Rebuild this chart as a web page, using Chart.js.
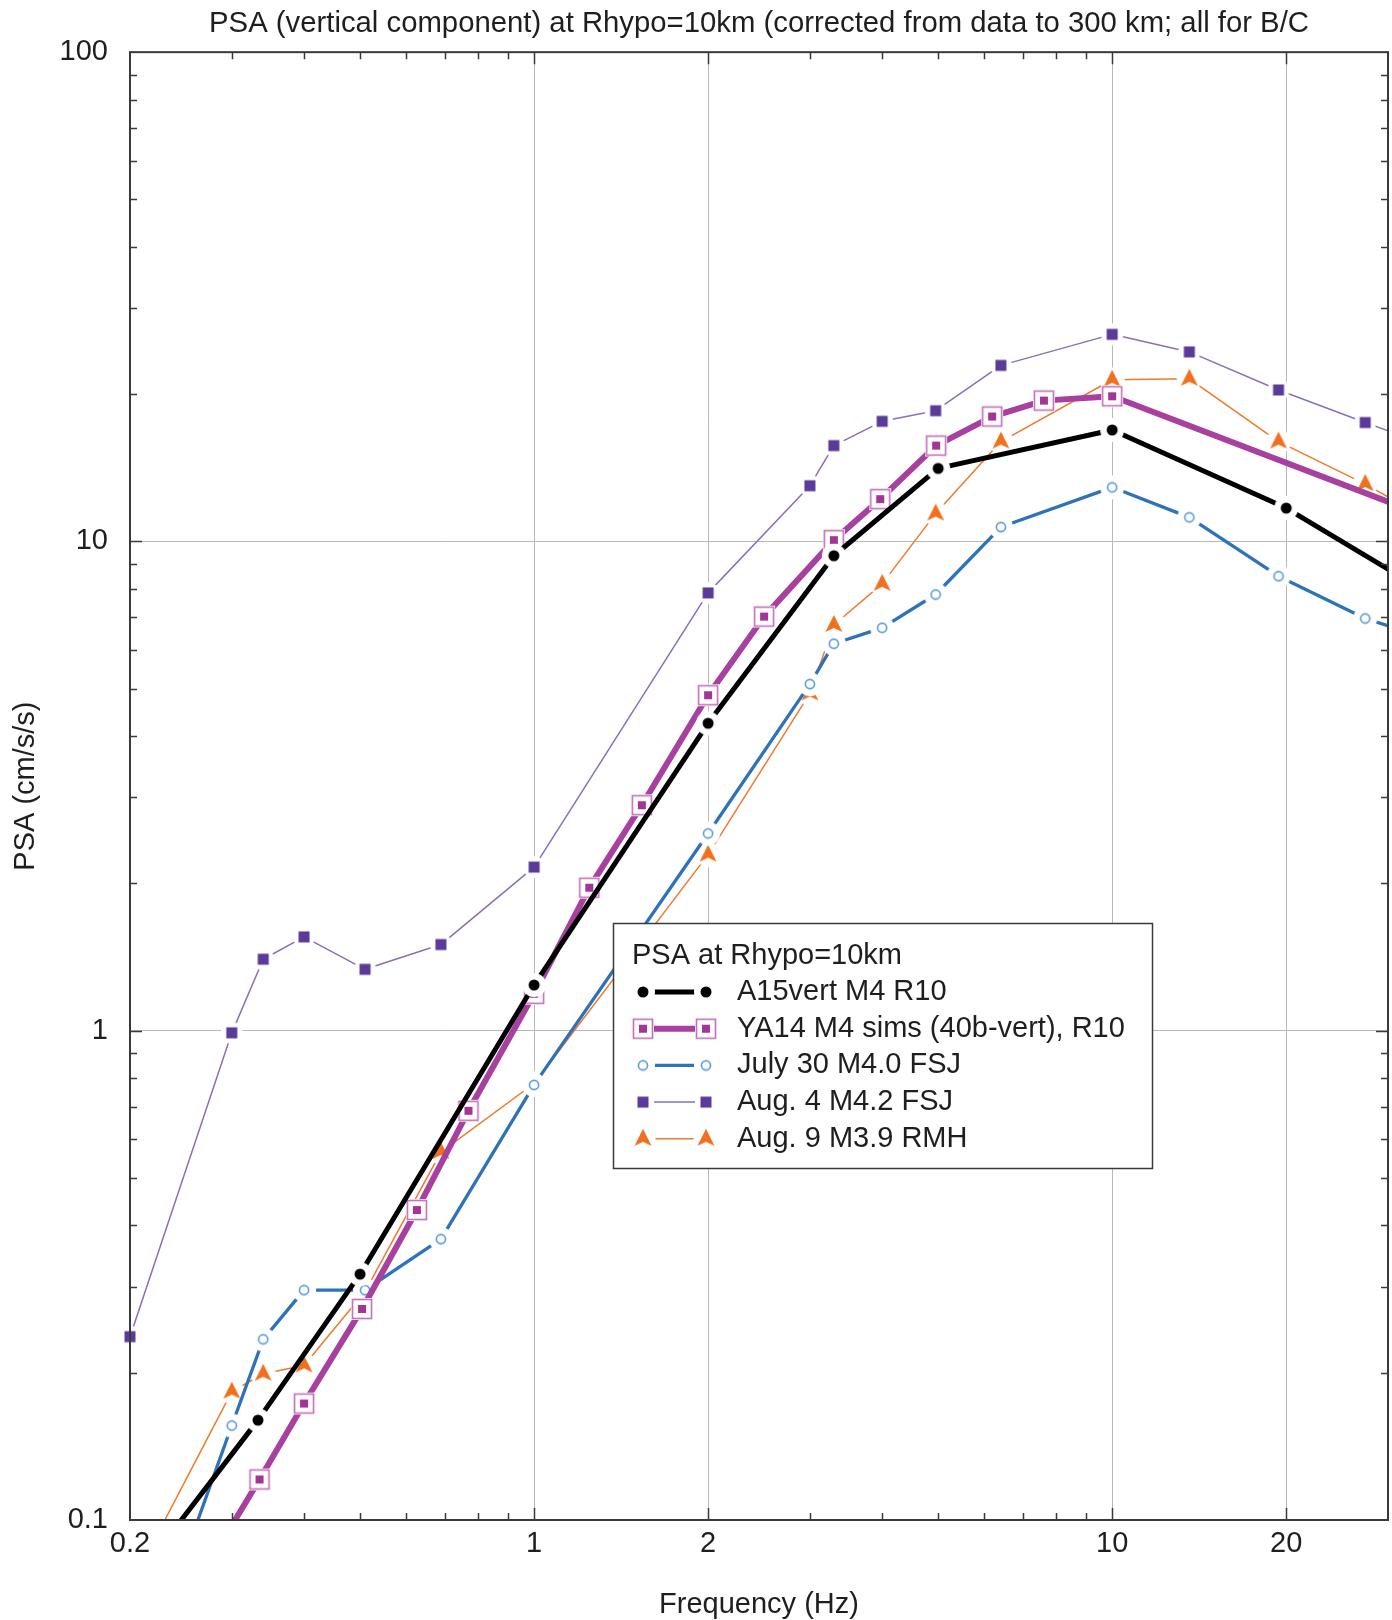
<!DOCTYPE html>
<html>
<head>
<meta charset="utf-8">
<title>PSA (vertical component) at Rhypo=10km</title>
<script src="https://cdn.jsdelivr.net/npm/chart.js@4.4.1/dist/chart.umd.min.js"></script>
<style>
  html, body { margin: 0; padding: 0; background: #fff; }
  #wrap { width: 1392px; height: 1620px; }
</style>
</head>
<body>
<div id="wrap"><canvas id="psa-chart" width="1392" height="1620"></canvas></div>
<script>
// ── Data ─────────────────────────────────────────────────────
// Observed events share one frequency grid (Hz)
const obsFreq    = [0.2, 0.3, 0.34, 0.4, 0.51, 0.69, 1, 2, 3, 3.3, 4, 4.95, 6.42, 10, 13.6, 19.4, 27.4, 33.3];
const july30Psa  = [0.041, 0.156, 0.234, 0.295, 0.295, 0.375, 0.775, 2.53, 5.11, 6.18, 6.66, 7.79, 10.7, 12.9, 11.2, 8.49, 6.96, 6.47];
const aug4Psa    = [0.237, 0.99, 1.40, 1.555, 1.335, 1.50, 2.16, 7.85, 13.0, 15.7, 17.6, 18.5, 22.9, 26.5, 24.4, 20.4, 17.5, 16.1];
const aug9Psa    = [0.073, 0.183, 0.199, 0.207, 0.293, 0.565, 0.78, 2.29, 4.89, 6.75, 8.19, 11.4, 16.0, 21.4, 21.5, 16.0, 13.1, 11.5];

// Models
const a15Freq    = [0.2, 0.333, 0.5, 1, 2, 3.3, 5, 10, 20, 33.3];
const a15Psa     = [0.073, 0.160, 0.318, 1.24, 4.25, 9.35, 14.1, 16.9, 11.7, 8.15];
const ya14Freq   = [0.2, 0.335, 0.4, 0.504, 0.627, 0.77, 1, 1.246, 1.536, 2, 2.5, 3.3, 3.97, 4.96, 6.2, 7.62, 10, 33.3];
const ya14Psa    = [0.044, 0.121, 0.173, 0.270, 0.430, 0.686, 1.19, 1.96, 2.89, 4.85, 7.02, 10.06, 12.2, 15.7, 18.0, 19.4, 19.8, 11.5];

const seriesLabels = ['A15vert M4 R10', 'YA14 M4 sims (40b-vert), R10', 'July 30 M4.0 FSJ', 'Aug. 4 M4.2 FSJ', 'Aug. 9 M3.9 RMH'];

// Axes
const xTickValues = [0.2, 0.3, 0.4, 0.5, 0.6, 0.7, 0.8, 0.9, 1, 2, 3, 4, 5, 6, 7, 8, 9, 10, 20, 30];
const xTickLabels = [0.2, 1, 2, 10, 20];
const xGrid       = [1, 2, 10, 20];
const yTickValues = [0.1, 0.2, 0.3, 0.4, 0.5, 0.6, 0.7, 0.8, 0.9, 1, 2, 3, 4, 5, 6, 7, 8, 9, 10, 20, 30, 40, 50, 60, 70, 80, 90, 100];
const yTickLabels = [0.1, 1, 10, 100];
const yGrid       = [1, 10];

const chartTitle  = 'PSA (vertical component) at Rhypo=10km (corrected from data to 300 km; all for B/C';
const legendTitle = 'PSA at Rhypo=10km';

// ── Styling ──────────────────────────────────────────────────
const FONT_FAMILY = "'Liberation Sans', Arial, Helvetica, sans-serif";
const TEXT_COLOR = '#1e1e1e';
const FRAME_COLOR = '#3a3a3a';
const GRID_COLOR = '#b8b8b8';

Chart.defaults.font.family = FONT_FAMILY;
Chart.defaults.font.size = 29;
Chart.defaults.color = TEXT_COLOR;

// Marker sprites: a white halo gives the line gap seen around each symbol
function makeMarker(size, halo, paint) {
  const c = document.createElement('canvas');
  c.width = size;
  c.height = size;
  const g = c.getContext('2d');
  const m = size / 2;
  if (halo > 0) {
    g.fillStyle = '#ffffff';
    g.beginPath();
    g.arc(m, m, halo, 0, Math.PI * 2);
    g.fill();
  }
  paint(g, m);
  return c;
}

const markers = {
  dot: makeMarker(28, 12, (g, m) => {
    g.fillStyle = '#000000';
    g.beginPath();
    g.arc(m, m, 5.5, 0, Math.PI * 2);
    g.fill();
  }),
  boxed: makeMarker(26, 0, (g, m) => {
    g.fillStyle = '#ffffff';
    g.fillRect(m - 11, m - 11, 22, 22);
    g.strokeStyle = '#c46fb8';
    g.lineWidth = 1.6;
    g.strokeRect(m - 9.5, m - 9.5, 19, 19);
    g.fillStyle = '#a23596';
    g.fillRect(m - 4, m - 4, 8, 8);
  }),
  ring: makeMarker(28, 12, (g, m) => {
    g.fillStyle = '#ffffff';
    g.strokeStyle = '#5b9bd5';
    g.lineWidth = 1.6;
    g.beginPath();
    g.arc(m, m, 4.6, 0, Math.PI * 2);
    g.fill();
    g.stroke();
  }),
  square: makeMarker(26, 11, (g, m) => {
    g.fillStyle = '#5a3b99';
    g.fillRect(m - 5.5, m - 5.5, 11, 11);
  }),
  tri: makeMarker(30, 12.5, (g, m) => {
    g.fillStyle = '#f0701e';
    g.beginPath();
    g.moveTo(m, m - 10);
    g.lineTo(m + 8.5, m + 7);
    g.lineTo(m, m + 3);
    g.lineTo(m - 8.5, m + 7);
    g.closePath();
    g.fill();
  }),
};

const toPoints = (xs, ys) => xs.map((x, i) => ({ x, y: ys[i] }));

function series(label, xs, ys, color, width, marker, clip = 0) {
  return {
    label,
    data: toPoints(xs, ys),
    borderColor: color,
    backgroundColor: color,
    borderWidth: width,
    borderJoinStyle: 'round',
    pointStyle: marker,
    pointRadius: 6,
    pointHoverRadius: 6,
    pointBorderWidth: 0,
    tension: 0,
    fill: false,
    clip,
  };
}

const datasets = [
  series(seriesLabels[0], a15Freq, a15Psa, '#000000', 5, markers.dot),
  series(seriesLabels[1], ya14Freq, ya14Psa, '#a8409f', 6, markers.boxed),
  series(seriesLabels[2], obsFreq, july30Psa, '#2e72b8', 3.3, markers.ring),
  series(seriesLabels[3], obsFreq, aug4Psa, '#8a70b8', 1.5, markers.square, { left: 14, top: 0, right: 0, bottom: 0 }),
  series(seriesLabels[4], obsFreq, aug9Psa, '#f07a2c', 1.5, markers.tri),
];

// ── Plugins ──────────────────────────────────────────────────

// Box around the plot plus inward tick marks on all four sides
const frameTicks = {
  id: 'frameTicks',
  afterDatasetsDraw(chart) {
    const { ctx, chartArea: a } = chart;
    const xs = chart.scales.x;
    const ys = chart.scales.y;
    ctx.save();
    ctx.strokeStyle = FRAME_COLOR;
    ctx.lineWidth = 1.5;
    ctx.beginPath();
    for (const v of xTickValues) {
      if (v === xs.min || v === xs.max) continue;
      const px = Math.round(xs.getPixelForValue(v)) + 0.5;
      const len = xGrid.includes(v) ? 12 : 7;
      ctx.moveTo(px, a.bottom); ctx.lineTo(px, a.bottom - len);
      ctx.moveTo(px, a.top); ctx.lineTo(px, a.top + len);
    }
    for (const v of yTickValues) {
      if (v === ys.min || v === ys.max) continue;
      const py = Math.round(ys.getPixelForValue(v)) + 0.5;
      const len = yGrid.includes(v) ? 12 : 7;
      ctx.moveTo(a.left, py); ctx.lineTo(a.left + len, py);
      ctx.moveTo(a.right, py); ctx.lineTo(a.right - len, py);
    }
    ctx.stroke();
    ctx.lineWidth = 2;
    ctx.strokeRect(a.left, a.top, a.right - a.left, a.bottom - a.top);
    ctx.restore();
  },
};

// Boxed legend inside the plot, with a symbol at each end of the line sample
const legendBox = {
  id: 'legendBox',
  afterDatasetsDraw(chart) {
    const { ctx } = chart;
    const x0 = 613, y0 = 923, w = 539, h = 245;
    ctx.save();
    ctx.fillStyle = '#ffffff';
    ctx.fillRect(x0, y0, w, h);
    ctx.strokeStyle = FRAME_COLOR;
    ctx.lineWidth = 1.5;
    ctx.strokeRect(x0 + 0.5, y0 + 0.5, w, h);

    ctx.font = `29px ${FONT_FAMILY}`;
    ctx.textBaseline = 'middle';
    ctx.fillStyle = TEXT_COLOR;
    ctx.fillText(legendTitle, x0 + 19, y0 + 33);

    chart.data.datasets.forEach((ds, i) => {
      const y = y0 + 69 + i * 36.7;
      const xa = x0 + 30, xb = x0 + 93;
      ctx.strokeStyle = ds.borderColor;
      ctx.lineWidth = ds.borderWidth;
      ctx.beginPath();
      ctx.moveTo(xa, y);
      ctx.lineTo(xb, y);
      ctx.stroke();
      const img = ds.pointStyle;
      for (const mx of [xa, xb]) {
        ctx.drawImage(img, mx - img.width / 2, y - img.height / 2);
      }
      ctx.fillStyle = TEXT_COLOR;
      ctx.fillText(ds.label, x0 + 124, y);
    });
    ctx.restore();
  },
};

// ── Chart ────────────────────────────────────────────────────
const ctx = document.getElementById('psa-chart').getContext('2d');
new Chart(ctx, {
  type: 'line',
  data: { datasets },
  options: {
    responsive: false,
    animation: false,
    devicePixelRatio: 1,
    layout: { autoPadding: false, padding: { left: 0, right: 4, top: 0, bottom: 0 } },
    plugins: {
      legend: { display: false },
      tooltip: { enabled: false },
      title: {
        display: true,
        text: chartTitle,
        fullSize: false,
        color: TEXT_COLOR,
        font: { size: 29.3, weight: 'normal' },
        padding: { top: 6, bottom: 11 },
      },
    },
    scales: {
      x: {
        type: 'logarithmic',
        min: 0.2,
        max: 30,
        afterBuildTicks: (scale) => { scale.ticks = xTickValues.map(value => ({ value })); },
        afterFit: (scale) => {
          scale.height = 100;
          scale.paddingLeft = 0;
          scale.paddingRight = 0;
        },
        ticks: {
          autoSkip: false,
          maxRotation: 0,
          padding: 7,
          color: TEXT_COLOR,
          callback: (v) => (xTickLabels.includes(v) ? String(v) : ''),
        },
        grid: {
          drawTicks: false,
          lineWidth: 1,
          color: (c) => (c.tick && xGrid.includes(c.tick.value) ? GRID_COLOR : 'rgba(0,0,0,0)'),
        },
        border: { display: false },
        title: {
          display: true,
          text: 'Frequency (Hz)',
          color: TEXT_COLOR,
          font: { size: 29, lineHeight: 1 },
          padding: { top: 0, bottom: 1 },
        },
      },
      y: {
        type: 'logarithmic',
        min: 0.1,
        max: 100,
        afterBuildTicks: (scale) => { scale.ticks = yTickValues.map(value => ({ value })); },
        afterFit: (scale) => { scale.width = 130; },
        ticks: {
          autoSkip: false,
          padding: 22,
          color: TEXT_COLOR,
          callback: (v) => (yTickLabels.includes(v) ? String(v) : ''),
        },
        grid: {
          drawTicks: false,
          lineWidth: 1,
          color: (c) => (c.tick && yGrid.includes(c.tick.value) ? GRID_COLOR : 'rgba(0,0,0,0)'),
        },
        border: { display: false },
        title: {
          display: true,
          text: 'PSA (cm/s/s)',
          color: TEXT_COLOR,
          font: { size: 29 },
          padding: { top: 9, bottom: 0 },
        },
      },
    },
  },
  plugins: [frameTicks, legendBox],
});
</script>
</body>
</html>
